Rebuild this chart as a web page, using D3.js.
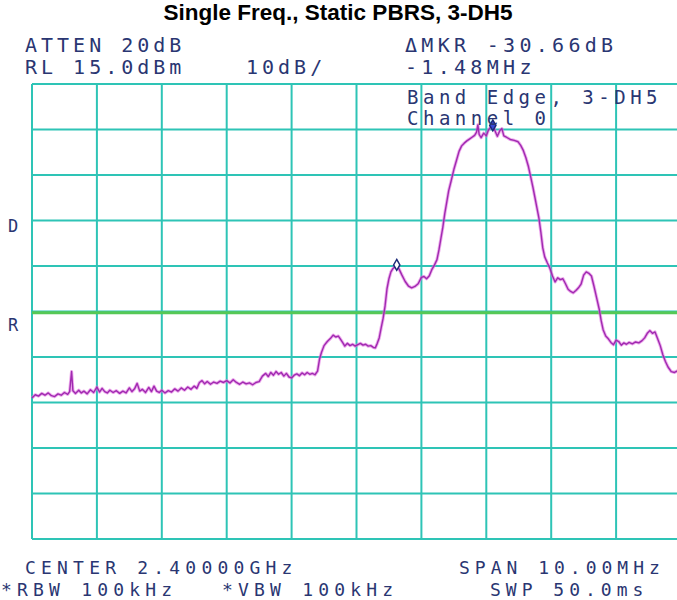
<!DOCTYPE html>
<html>
<head>
<meta charset="utf-8">
<script src="https://cdn.jsdelivr.net/npm/d3@7"></script>
<style>
  html, body { margin: 0; padding: 0; background: #ffffff; }
  svg { display: block; }
</style>
</head>
<body>
<script>
// Spectrum analyser sweep: band edge, 3-DH5, channel 0
const chartTitle = "Single Freq., Static PBRS, 3-DH5";

// Frequency offset from 2.40000 GHz centre (MHz) and trace level (dBm)
const freqOffsetMHz = [
  -5.00, -4.95, -4.90, -4.85, -4.80, -4.75, -4.70, -4.65, -4.60, -4.55,
  -4.50, -4.45, -4.42, -4.39, -4.37, -4.33, -4.28, -4.24, -4.20, -4.15,
  -4.10, -4.05, -4.00, -3.96, -3.92, -3.88, -3.84, -3.80, -3.75, -3.70,
  -3.65, -3.60, -3.55, -3.50, -3.46, -3.42, -3.38, -3.34, -3.30, -3.25,
  -3.20, -3.16, -3.12, -3.08, -3.04, -3.00, -2.95, -2.90, -2.85, -2.80,
  -2.75, -2.70, -2.65, -2.60, -2.55, -2.50, -2.46, -2.42, -2.38, -2.34,
  -2.30, -2.25, -2.20, -2.15, -2.10, -2.05, -2.00, -1.95, -1.90, -1.85,
  -1.80, -1.75, -1.70, -1.65, -1.60, -1.55, -1.50, -1.45, -1.40, -1.36,
  -1.32, -1.28, -1.24, -1.20, -1.16, -1.12, -1.08, -1.04, -1.00, -0.96,
  -0.92, -0.88, -0.84, -0.80, -0.76, -0.72, -0.68, -0.64, -0.60, -0.57,
  -0.54, -0.50, -0.45, -0.40, -0.36, -0.32, -0.28, -0.25, -0.21, -0.18,
  -0.14, -0.10, -0.06, -0.02, 0.02, 0.06, 0.10, 0.14, 0.18, 0.22,
  0.26, 0.29, 0.32, 0.35, 0.38, 0.41, 0.44, 0.47, 0.50, 0.53,
  0.56, 0.62, 0.66, 0.70, 0.75, 0.80, 0.85, 0.90, 0.95, 1.00,
  1.04, 1.08, 1.12, 1.16, 1.20, 1.24, 1.27, 1.30, 1.33, 1.36,
  1.39, 1.42, 1.46, 1.50, 1.54, 1.58, 1.62, 1.66, 1.70, 1.74,
  1.78, 1.82, 1.85, 1.87, 1.89, 1.92, 1.96, 2.00, 2.03, 2.06,
  2.10, 2.14, 2.17, 2.21, 2.24, 2.27, 2.31, 2.37, 2.43, 2.49,
  2.53, 2.57, 2.61, 2.65, 2.69, 2.72, 2.75, 2.78, 2.81, 2.84,
  2.87, 2.90, 2.94, 2.98, 3.02, 3.06, 3.10, 3.14, 3.18, 3.22,
  3.26, 3.30, 3.34, 3.38, 3.42, 3.46, 3.50, 3.54, 3.58, 3.62,
  3.66, 3.70, 3.74, 3.77, 3.80, 3.84, 3.88, 3.92, 3.96, 4.00,
  4.04, 4.08, 4.12, 4.16, 4.20, 4.25, 4.30, 4.35, 4.40, 4.44,
  4.48, 4.52, 4.56, 4.60, 4.64, 4.68, 4.72, 4.76, 4.80, 4.85,
  4.90, 4.95, 5.00
];
const levelDbm = [
  -54.0, -53.3, -53.6, -53.0, -53.4, -52.9, -53.5, -53.7, -53.1, -53.4,
  -52.8, -53.2, -52.6, -48.2, -52.4, -53.0, -52.3, -52.9, -52.5, -53.1,
  -52.2, -52.8, -51.6, -52.7, -51.9, -52.6, -52.9, -52.3, -52.8, -52.4,
  -53.0, -52.5, -52.9, -51.8, -52.6, -52.0, -50.8, -52.5, -52.1, -52.8,
  -51.7, -52.6, -51.4, -52.5, -52.8, -52.3, -52.9, -52.4, -52.7, -52.0,
  -52.5, -51.8, -52.3, -51.6, -52.1, -51.4, -51.9, -50.6, -50.2, -50.9,
  -50.4, -51.0, -50.5, -50.8, -50.3, -50.6, -50.2, -50.7, -50.0, -50.6,
  -51.0, -50.5, -50.9, -50.7, -51.1, -50.6, -50.4, -49.2, -48.6, -49.3,
  -48.4, -49.0, -48.2, -48.8, -48.4, -49.2, -48.6, -49.4, -49.6, -49.0,
  -48.7, -49.1, -48.5, -48.9, -48.4, -48.8, -48.6, -48.9, -48.1, -45.5,
  -44.0, -42.5, -41.6, -40.9, -40.2, -40.6, -40.4, -41.0, -41.9, -42.6,
  -42.0, -42.5, -42.2, -42.6, -42.3, -42.0, -42.4, -42.2, -42.6, -42.5,
  -42.9, -43.0, -42.0, -40.8, -38.6, -36.5, -33.8, -30.0, -27.8, -26.3,
  -25.6, -24.76, -25.8, -27.0, -28.4, -29.4, -29.8, -29.5, -28.9, -27.5,
  -27.3, -27.8, -27.2, -25.8, -24.8, -23.6, -21.5, -19.0, -16.5, -13.5,
  -11.0, -8.5, -6.2, -3.8, -1.8, 0.2, 1.4, 2.0, 2.5, 2.9,
  3.3, 3.7, 4.4, 6.0, 3.9, 3.2, 4.2, 3.6, 4.8, 5.4,
  5.9, 4.5, 3.5, 4.8, 5.2, 3.6, 3.3, 2.8, 2.6, 2.3,
  1.5, 0.4, -1.2, -3.2, -5.8, -7.8, -10.0, -12.2, -14.4, -17.5,
  -21.0, -23.0, -24.3, -25.5, -27.2, -28.5, -27.6, -28.0, -27.8, -28.9,
  -30.1, -30.6, -30.9, -30.4, -29.8, -29.0, -27.0, -26.3, -26.6, -27.2,
  -29.5, -32.0, -34.5, -37.0, -39.0, -40.4, -41.0, -41.8, -42.3, -41.3,
  -41.6, -42.4, -41.9, -42.2, -41.8, -42.1, -41.7, -41.9, -41.4, -40.8,
  -39.8, -39.2, -39.8, -39.5, -41.0, -42.5, -44.5, -46.0, -47.2, -48.2,
  -48.4, -48.0, -48.4
];

// Markers: reference at the in-band peak, delta marker at the band-edge lobe
const peakMarker = { offsetMHz: 2.10, level: 5.9 };
const deltaMarker = { dFreqMHz: -1.48, dLevel: -30.66 };
const displayLineDbm = -35.3;

// Screen divisions: 1 MHz/div horizontally, 10 dB/div down from RL 15 dBm
const freqDivisions = [-5, -4, -3, -2, -1, 0, 1, 2, 3, 4, 5];
const levelDivisions = [15, 5, -5, -15, -25, -35, -45, -55, -65, -75, -85];

// Annotation text of the instrument screen
const headerLeft = ["ATTEN 20dB", "RL 15.0dBm"];
const scaleLabel = "10dB/";
const headerRight = ["\u0394MKR -30.66dB", "-1.48MHz"];
const traceNote = ["Band Edge, 3-DH5", "Channel 0"];
const footerLeft = ["CENTER 2.40000GHz", "*RBW 100kHz"];
const footerMid = "*VBW 100kHz";
const footerRight = ["SPAN 10.00MHz", "SWP 50.0ms"];
const sideLabels = ["D", "R"];

const W = 677, H = 600;
const plot = { left: 32, right: 681, top: 84, bottom: 539 };

const x = d3.scaleLinear().domain([-5, 5]).range([plot.left, plot.right]);
const y = d3.scaleLinear().domain([-85, 15]).range([plot.bottom, plot.top]);

const svg = d3.select("body").append("svg")
  .attr("width", W).attr("height", H)
  .attr("viewBox", `0 0 ${W} ${H}`);

// Title
svg.append("text")
  .attr("x", 338).attr("y", 20)
  .attr("text-anchor", "middle")
  .attr("font-family", "'Liberation Sans', Arial, sans-serif")
  .attr("font-weight", "bold")
  .attr("font-size", 22.5)
  .attr("fill", "#000")
  .text(chartTitle);

// Graticule
const gridColor = "#2ec4b6";
const grid = svg.append("g").attr("class", "graticule");
grid.selectAll("line.v").data(freqDivisions).join("line")
  .attr("class", "v")
  .attr("x1", d => x(d)).attr("x2", d => x(d))
  .attr("y1", plot.top).attr("y2", plot.bottom)
  .attr("stroke", gridColor).attr("stroke-width", 2);
grid.selectAll("line.h").data(levelDivisions).join("line")
  .attr("class", "h")
  .attr("x1", plot.left).attr("x2", plot.right)
  .attr("y1", d => y(d)).attr("y2", d => y(d))
  .attr("stroke", gridColor).attr("stroke-width", 2);

// Display line
svg.append("line")
  .attr("x1", plot.left).attr("x2", plot.right)
  .attr("y1", y(displayLineDbm)).attr("y2", y(displayLineDbm))
  .attr("stroke", "#56c856").attr("stroke-width", 3);

// Trace
const trace = freqOffsetMHz.map((f, i) => [f, levelDbm[i]]);
const line = d3.line().x(d => x(d[0])).y(d => y(d[1]));
svg.append("path").datum(trace)
  .attr("d", line).attr("fill", "none")
  .attr("stroke", "#e070e0").attr("stroke-width", 3.2).attr("stroke-opacity", 0.6)
  .attr("stroke-linejoin", "round");
svg.append("path").datum(trace)
  .attr("d", line).attr("fill", "none")
  .attr("stroke", "#a02ab0").attr("stroke-width", 1.4)
  .attr("stroke-linejoin", "round");

// Markers
const markerPts = [
  { f: peakMarker.offsetMHz, v: peakMarker.level, fill: "#3a4ad8" },
  { f: peakMarker.offsetMHz + deltaMarker.dFreqMHz, v: peakMarker.level + deltaMarker.dLevel, fill: "#ffffff" }
];
svg.selectAll("path.mkr").data(markerPts).join("path")
  .attr("class", "mkr")
  .attr("transform", d => `translate(${x(d.f)},${y(d.v)})`)
  .attr("d", d3.symbol(d3.symbolDiamond, 34))
  .attr("fill", d => d.fill)
  .attr("stroke", "#1c2a78").attr("stroke-width", 1.5);

// Screen annotations
const monoFont = "'DejaVu Sans Mono', 'Liberation Mono', monospace";
const textColor = "#2a3672";
function screenText(str, tx, ty, size = 20, spacing = 4.0) {
  svg.append("text")
    .attr("x", tx).attr("y", ty)
    .attr("font-family", monoFont)
    .attr("font-size", size)
    .attr("letter-spacing", spacing)
    .attr("fill", textColor)
    .text(str);
}
screenText(headerLeft[0], 25, 52);
screenText(headerLeft[1], 25, 74);
screenText(scaleLabel, 246, 74);
screenText(headerRight[0], 405, 52, 20, 4.3);
screenText(headerRight[1], 405, 74, 20, 4.3);
screenText(traceNote[0], 407, 104, 19, 4.5);
screenText(traceNote[1], 407, 125, 19, 4.5);
screenText(footerLeft[0], 25, 574, 18, 5.2);
screenText(footerLeft[1], 1, 596, 18, 5.2);
screenText(footerMid, 222, 596, 18, 5.2);
screenText(footerRight[0], 459, 574, 18, 5.0);
screenText(footerRight[1], 490, 596, 18, 5.0);
screenText(sideLabels[0], 8, 232, 17, 0);
screenText(sideLabels[1], 8, 331, 17, 0);
</script>
</body>
</html>
